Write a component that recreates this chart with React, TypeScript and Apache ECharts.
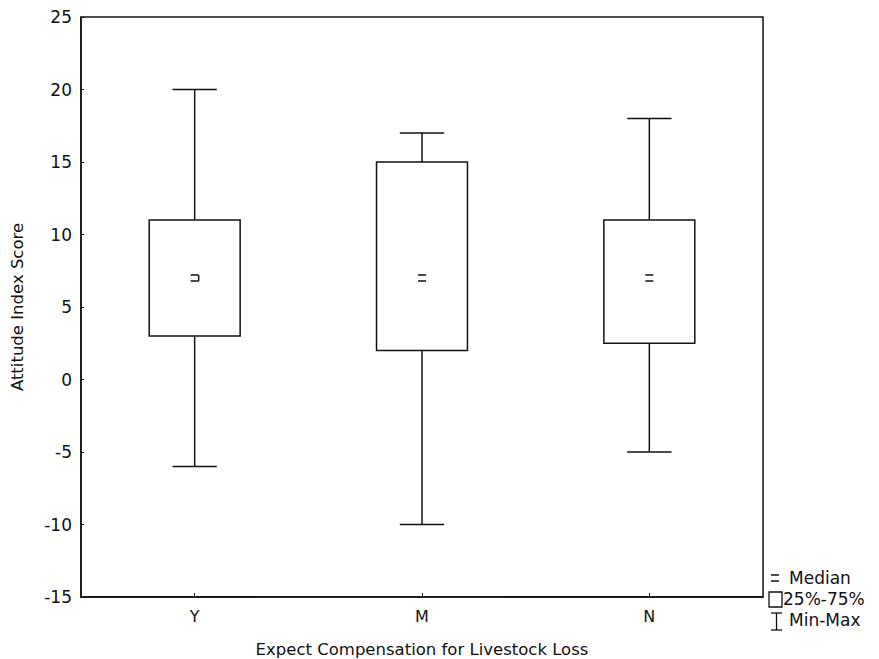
import React, { useEffect, useRef } from "react";
import * as echarts from "echarts";

const categories = ["Y", "M", "N"];
const minVals = [-6, -10, -5];
const q1Vals = [3, 2, 2.5];
const medianVals = [7, 7, 7];
const q3Vals = [11, 15, 11];
const maxVals = [20, 17, 18];
const yTicks = { min: -15, max: 25, interval: 5 };

const FONT = "DejaVu Sans, Liberation Sans, Arial, sans-serif";

export default function App() {
  const ref = useRef<HTMLDivElement>(null);
  useEffect(() => {
    if (!ref.current) return;
    const chart = echarts.init(ref.current, null, { renderer: "svg" });
    const data = categories.map((c, i) => [i, minVals[i], q1Vals[i], medianVals[i], q3Vals[i], maxVals[i]]);
    const lineStyle = { stroke: "#111", lineWidth: 1.5, fill: "none" };
    chart.setOption({
      animation: false,
      backgroundColor: "#fff",
      grid: { left: 81, top: 17, right: 116, bottom: 62, outerBoundsMode: "none", containLabel: false },
      xAxis: {
        type: "category",
        data: categories,
        boundaryGap: true,
        name: "Expect Compensation for Livestock Loss",
        nameLocation: "middle",
        nameGap: 44,
        nameTextStyle: { fontFamily: FONT, fontSize: 16.5, color: "#111" },
        axisLine: { show: true, onZero: false, lineStyle: { color: "#111", width: 1.5 } },
        axisTick: { show: true, inside: true, alignWithLabel: true, length: 4, lineStyle: { color: "#111" } },
        axisLabel: { fontFamily: FONT, fontSize: 16, color: "#111", margin: 11 },
        splitLine: { show: false },
      },
      yAxis: {
        type: "value",
        min: yTicks.min,
        max: yTicks.max,
        interval: yTicks.interval,
        name: "Attitude Index Score",
        nameLocation: "middle",
        nameGap: 55,
        nameTextStyle: { fontFamily: FONT, fontSize: 16.5, color: "#111" },
        axisLine: { show: true, onZero: false, lineStyle: { color: "#111", width: 1.5 } },
        axisTick: { show: true, inside: true, length: 3, lineStyle: { color: "#111" } },
        axisLabel: { fontFamily: FONT, fontSize: 17, color: "#111", margin: 9 },
        splitLine: { show: false },
      },
      graphic: [
        { type: "rect", shape: { x: 81, y: 17, width: 682, height: 580 }, style: { fill: "none", stroke: "#111", lineWidth: 1.5 }, silent: true, z: 0 },
        { type: "line", shape: { x1: 771, y1: 575, x2: 779, y2: 575 }, style: { stroke: "#111", lineWidth: 1.5 } },
        { type: "line", shape: { x1: 771, y1: 581, x2: 779, y2: 581 }, style: { stroke: "#111", lineWidth: 1.5 } },
        { type: "text", x: 789, y: 578, style: { text: "Median", font: `17px ${FONT}`, fill: "#111", textVerticalAlign: "middle" } },
        { type: "rect", shape: { x: 769, y: 592, width: 13, height: 15 }, style: { fill: "none", stroke: "#111", lineWidth: 1.3 } },
        { type: "text", x: 783, y: 599, style: { text: "25%-75%", font: `17px ${FONT}`, fill: "#111", textVerticalAlign: "middle" } },
        { type: "line", shape: { x1: 771, y1: 613, x2: 782, y2: 613 }, style: { stroke: "#111", lineWidth: 1.3 } },
        { type: "line", shape: { x1: 776.5, y1: 613, x2: 776.5, y2: 630 }, style: { stroke: "#111", lineWidth: 1.3 } },
        { type: "line", shape: { x1: 771, y1: 630, x2: 782, y2: 630 }, style: { stroke: "#111", lineWidth: 1.3 } },
        { type: "text", x: 789, y: 620, style: { text: "Min-Max", font: `17px ${FONT}`, fill: "#111", textVerticalAlign: "middle" } },
      ],
      series: [
        {
          type: "custom",
          data,
          renderItem: (params: any, api: any) => {
            const xi = api.value(0);
            const pMin = api.coord([xi, api.value(1)]);
            const pQ1 = api.coord([xi, api.value(2)]);
            const pMed = api.coord([xi, api.value(3)]);
            const pQ3 = api.coord([xi, api.value(4)]);
            const pMax = api.coord([xi, api.value(5)]);
            const bw = api.size([1, 0])[0] * 0.4;
            const cw = api.size([1, 0])[0] * 0.195;
            const x = pMed[0];
            const children: any[] = [
              { type: "line", shape: { x1: x, y1: pMax[1], x2: x, y2: pQ3[1] }, style: lineStyle },
              { type: "line", shape: { x1: x, y1: pQ1[1], x2: x, y2: pMin[1] }, style: lineStyle },
              { type: "line", shape: { x1: x - cw / 2, y1: pMax[1], x2: x + cw / 2, y2: pMax[1] }, style: lineStyle },
              { type: "line", shape: { x1: x - cw / 2, y1: pMin[1], x2: x + cw / 2, y2: pMin[1] }, style: lineStyle },
              { type: "rect", shape: { x: x - bw / 2, y: pQ3[1], width: bw, height: pQ1[1] - pQ3[1] }, style: { fill: "#fff", stroke: "#111", lineWidth: 1.5 } },
              { type: "line", shape: { x1: x - 4, y1: pMed[1] - 3, x2: x + 4, y2: pMed[1] - 3 }, style: lineStyle },
              { type: "line", shape: { x1: x - 4, y1: pMed[1] + 3, x2: x + 4, y2: pMed[1] + 3 }, style: lineStyle },
            ];
            if (params.dataIndex === 0) {
              children.push({ type: "line", shape: { x1: x + 4, y1: pMed[1] - 3, x2: x + 4, y2: pMed[1] + 3 }, style: lineStyle });
            }
            return { type: "group", children };
          },
        },
      ],
    });
    return () => chart.dispose();
  }, []);
  return <div ref={ref} style={{ position: "fixed", left: 0, top: 0, width: 879, height: 659, background: "#fff" }} />;
}
